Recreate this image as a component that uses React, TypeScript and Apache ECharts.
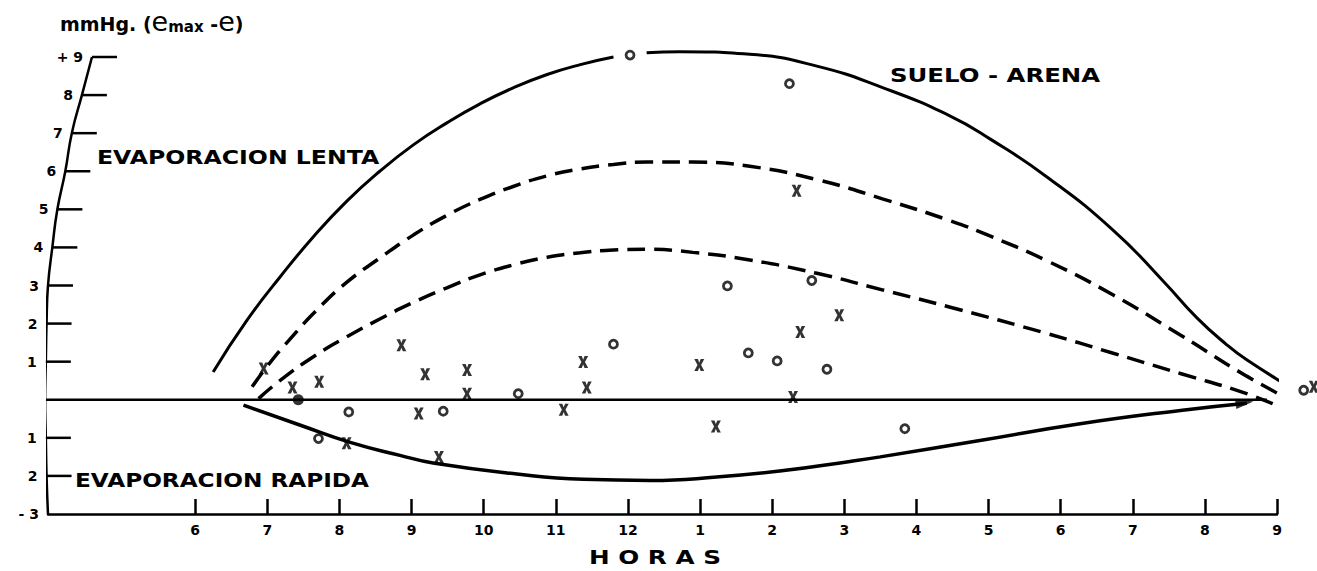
import React, { useEffect, useRef } from 'react';
import * as echarts from 'echarts';

// ---- Data (hours of day on a 24h scale; values in mmHg) ----
const hourTicks = [6, 7, 8, 9, 10, 11, 12, 13, 14, 15, 16, 17, 18, 19, 20, 21];
const hourLabels = ['6', '7', '8', '9', '10', '11', '12', '1', '2', '3', '4', '5', '6', '7', '8', '9'];

// hand-drawn curved vertical axis: where it sits (hour) at each value
const yCurveValues = [-3, -2, -1, 0, 1, 2, 3, 4, 5, 6, 7, 8, 9];
const yCurveHours = [3.96, 3.94, 3.93, 3.92, 3.93, 3.94, 3.96, 4.02, 4.09, 4.2, 4.29, 4.43, 4.57];
const yTickValues = [-3, -2, -1, 1, 2, 3, 4, 5, 6, 7, 8, 9];
const yTickLabels = ['- 3', '2', '1', '1', '2', '3', '4', '5', '6', '7', '8', '+ 9'];

const sueloArenaA = [
  [6.25, 0.73], [6.72, 2.09], [7.18, 3.23], [7.64, 4.28], [8.1, 5.21], [8.56, 6.0], [9.03, 6.7],
  [9.49, 7.27], [9.95, 7.77], [10.41, 8.19], [10.88, 8.54], [11.34, 8.8], [11.8, 9.0],
];
const sueloArenaB = [
  [12.26, 9.11], [12.72, 9.14], [13.69, 9.07], [14.62, 8.76], [15.54, 8.19], [16.47, 7.45],
  [17.02, 6.85], [17.81, 5.85], [18.73, 4.45], [19.43, 3.1], [19.89, 2.15], [20.3, 1.45],
  [20.58, 1.05], [21.25, 0.25],
];
const dashedUpper = [
  [6.79, 0.34], [7.0, 0.88], [7.3, 1.56], [7.7, 2.38], [8.1, 3.08], [8.56, 3.72], [9.03, 4.33],
  [9.49, 4.84], [9.95, 5.26], [10.41, 5.6], [10.88, 5.88], [11.34, 6.06], [11.8, 6.18], [12.26, 6.24],
  [12.9, 6.24], [13.69, 6.13], [14.62, 5.78], [15.54, 5.27], [16.47, 4.7], [17.02, 4.3], [17.81, 3.65],
  [18.73, 2.75], [19.66, 1.7], [20.58, 0.62], [21.32, -0.14],
];
const dashedLower = [
  [6.88, 0.03], [7.18, 0.51], [7.64, 1.13], [8.1, 1.65], [8.56, 2.12], [9.03, 2.56], [9.49, 2.94],
  [9.95, 3.28], [10.41, 3.54], [10.88, 3.74], [11.34, 3.86], [11.8, 3.93], [12.26, 3.95], [12.9, 3.87],
  [13.69, 3.67], [14.62, 3.32], [15.54, 2.88], [16.47, 2.43], [17.81, 1.74], [18.73, 1.22],
  [19.66, 0.69], [20.58, 0.16], [21.09, -0.23],
];
const rapida = [
  [6.67, -0.14], [7.46, -0.67], [8.15, -1.12], [8.84, -1.46], [9.3, -1.66], [10.46, -1.95],
  [11.38, -2.09], [12.31, -2.12], [13.23, -2.03], [14.16, -1.86], [15.08, -1.62], [15.5, -1.5],
  [16.88, -1.07], [18.27, -0.63], [19.66, -0.28], [20.58, -0.09],
];
const zeroLine = [[3.92, 0], [20.86, 0]];
const rapidaArrow = [[20.55, -0.08]];

const crossPoints = [
  [6.95, 0.82], [7.35, 0.32], [7.72, 0.47], [8.1, -1.14], [8.86, 1.43], [9.19, 0.67], [9.1, -0.36],
  [9.38, -1.5], [9.77, 0.78], [9.77, 0.16], [11.11, -0.26], [11.38, 0.99], [11.43, 0.32], [12.99, 0.91],
  [13.22, -0.7], [14.39, 1.78], [14.29, 0.07], [14.93, 2.22], [14.34, 5.49], [21.51, 0.34],
];
const circlePoints = [
  [8.13, -0.32], [7.71, -1.02], [9.44, -0.3], [10.48, 0.16], [11.8, 1.46], [13.67, 1.23], [14.07, 1.02],
  [14.76, 0.8], [13.38, 2.99], [14.55, 3.13], [14.24, 8.3], [12.03, 9.05], [15.84, -0.76], [21.37, 0.25],
];
const filledPoints = [[7.43, 0]];

const FONT = '"DejaVu Sans"';
const CROSS = 'path://M0,0H3.6L5,3.6L6.4,0H10L6.8,6L10,12H6.4L5,8.4L3.6,12H0L3.2,6Z';

export default function App() {
  const ref = useRef<HTMLDivElement>(null);
  useEffect(() => {
    document.body.style.margin = '0';
    const chart = echarts.init(ref.current!, null, { renderer: 'svg' });
    const lineBase = {
      type: 'line' as const,
      smooth: 0.5,
      symbol: 'none',
      clip: false,
      silent: true,
    };
    const yTickData = yTickValues.map((v) => [yCurveHours[yCurveValues.indexOf(v)], v]);
    chart.setOption({
      animation: false,
      backgroundColor: '#fff',
      grid: { left: 48, right: 40, top: 57, bottom: 57 },
      xAxis: {
        type: 'value',
        min: 3.96,
        max: 21,
        axisLine: { show: true, onZero: false, lineStyle: { color: '#000', width: 2.5 } },
        axisTick: {
          show: true,
          inside: true,
          length: 15,
          customValues: hourTicks,
          lineStyle: { color: '#000', width: 2.5 },
        },
        axisLabel: {
          customValues: hourTicks,
          formatter: (v: number) => hourLabels[hourTicks.indexOf(Math.round(v))] ?? '',
          color: '#000',
          fontFamily: FONT,
          fontWeight: 'bold',
          fontSize: 14,
          margin: 9,
        },
        splitLine: { show: false },
      },
      yAxis: { type: 'value', min: -3, max: 9, show: false },
      series: [
        {
          ...lineBase,
          name: 'yAxisCurve',
          data: yCurveValues.map((v, i) => [yCurveHours[i], v]),
          lineStyle: { color: '#000', width: 2.5 },
        },
        {
          type: 'custom',
          name: 'yTicks',
          clip: false,
          silent: true,
          data: yTickData,
          renderItem: (params: any, api: any) => {
            const p = api.coord([api.value(0), api.value(1)]);
            const children: any[] = [];
            if (api.value(1) > -3) {
              children.push({
                type: 'line',
                shape: { x1: p[0], y1: p[1], x2: p[0] + 25, y2: p[1] },
                style: { stroke: '#000', lineWidth: 2.5 },
              });
            }
            children.push({
              type: 'text',
              x: p[0] - 9,
              y: p[1],
              style: {
                text: yTickLabels[params.dataIndex],
                align: 'right',
                verticalAlign: 'middle',
                font: `bold 14px ${FONT}`,
                fill: '#000',
              },
            });
            return { type: 'group', children };
          },
        },
        { ...lineBase, name: 'zero', smooth: false, data: zeroLine, lineStyle: { color: '#000', width: 2.5 } },
        { ...lineBase, name: 'sueloA', data: sueloArenaA, lineStyle: { color: '#000', width: 3 } },
        { ...lineBase, name: 'sueloB', data: sueloArenaB, lineStyle: { color: '#000', width: 3 } },
        {
          ...lineBase,
          name: 'dashUp',
          data: dashedUpper,
          lineStyle: { color: '#000', width: 3.5, type: [18, 9] },
        },
        {
          ...lineBase,
          name: 'dashLow',
          data: dashedLower,
          lineStyle: { color: '#000', width: 3.5, type: [18, 9] },
        },
        { ...lineBase, name: 'rapida', data: rapida, lineStyle: { color: '#000', width: 3.5 } },
        {
          type: 'scatter',
          name: 'arrow',
          clip: false,
          silent: true,
          data: rapidaArrow,
          symbol: 'triangle',
          symbolRotate: -82,
          symbolSize: [10, 18],
          itemStyle: { color: '#000' },
        },
        {
          type: 'scatter',
          name: 'x',
          clip: false,
          silent: true,
          data: crossPoints,
          symbol: CROSS,
          symbolSize: [10, 12],
          itemStyle: { color: '#000' },
        },
        {
          type: 'scatter',
          name: 'o',
          clip: false,
          silent: true,
          data: circlePoints,
          symbol: 'circle',
          symbolSize: 8,
          itemStyle: { color: '#fff', borderColor: '#000', borderWidth: 2.8 },
        },
        {
          type: 'scatter',
          name: 'dot',
          clip: false,
          silent: true,
          data: filledPoints,
          symbol: 'circle',
          symbolSize: 11,
          itemStyle: { color: '#000' },
        },
      ],
      graphic: [
        {
          type: 'text',
          x: 60,
          y: 24,
          style: {
            text: '{a|mmHg. (}{e|e}{s|max}{a| -}{e|e}{a|)}',
            verticalAlign: 'middle',
            fill: '#000',
            rich: {
              a: { fontFamily: FONT, fontWeight: 'bold', fontSize: 19, fill: '#000' },
              e: { fontFamily: FONT, fontWeight: 'normal', fontSize: 27, fill: '#000', padding: [0, 0, 6, 0] },
              s: { fontFamily: FONT, fontWeight: 'bold', fontSize: 15, fill: '#000', padding: [6, 0, 0, 0] },
            },
          },
        },
        {
          type: 'text',
          x: 97,
          y: 157,
          scaleX: 1.18,
          style: { text: 'EVAPORACION LENTA', font: `bold 20px ${FONT}`, fill: '#000', verticalAlign: 'middle' },
        },
        {
          type: 'text',
          x: 75,
          y: 480,
          scaleX: 1.16,
          style: { text: 'EVAPORACION RAPIDA', font: `bold 20px ${FONT}`, fill: '#000', verticalAlign: 'middle' },
        },
        {
          type: 'text',
          x: 890,
          y: 75,
          scaleX: 1.22,
          style: { text: 'SUELO - ARENA', font: `bold 20px ${FONT}`, fill: '#000', verticalAlign: 'middle' },
        },
        {
          type: 'text',
          x: 655,
          y: 558,
          scaleX: 1.3,
          style: {
            text: 'H O R A S',
            font: `bold 19px ${FONT}`,
            fill: '#000',
            align: 'center',
            verticalAlign: 'middle',
          },
        },
      ],
    });
    return () => chart.dispose();
  }, []);
  return <div ref={ref} style={{ width: 1317, height: 571 }} />;
}
